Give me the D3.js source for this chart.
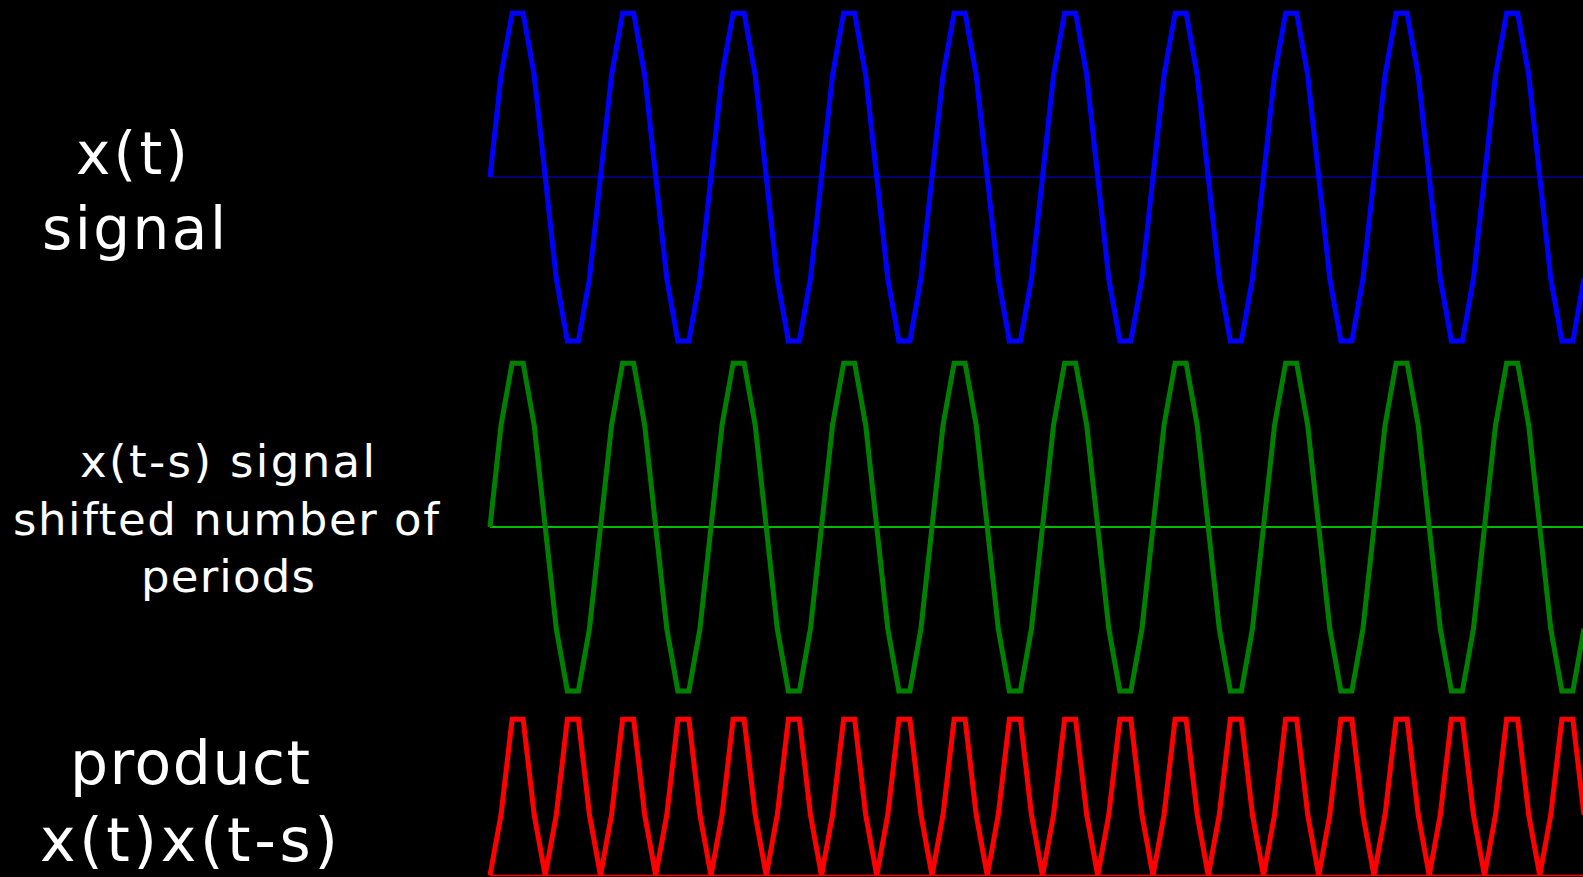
<!DOCTYPE html>
<html>
<head>
<meta charset="utf-8">
<script src="https://cdn.jsdelivr.net/npm/d3@7"></script>
<style>
  html, body { margin: 0; padding: 0; background: #000; overflow: hidden; }
  svg { display: block; }
  text { font-family: "DejaVu Sans", Verdana, sans-serif; fill: #fff; }
</style>
</head>
<body>
<svg id="chart" width="1583" height="877"></svg>
<script>
// ---- data ----
const signal = [
  0, 0.59, 0.95, 0.95, 0.59, 0, -0.59, -0.95, -0.95, -0.59,
  0, 0.59, 0.95, 0.95, 0.59, 0, -0.59, -0.95, -0.95, -0.59,
  0, 0.59, 0.95, 0.95, 0.59, 0, -0.59, -0.95, -0.95, -0.59,
  0, 0.59, 0.95, 0.95, 0.59, 0, -0.59, -0.95, -0.95, -0.59,
  0, 0.59, 0.95, 0.95, 0.59, 0, -0.59, -0.95, -0.95, -0.59,
  0, 0.59, 0.95, 0.95, 0.59, 0, -0.59, -0.95, -0.95, -0.59,
  0, 0.59, 0.95, 0.95, 0.59, 0, -0.59, -0.95, -0.95, -0.59,
  0, 0.59, 0.95, 0.95, 0.59, 0, -0.59, -0.95, -0.95, -0.59,
  0, 0.59, 0.95, 0.95, 0.59, 0, -0.59, -0.95, -0.95, -0.59,
  0, 0.59, 0.95, 0.95, 0.59, 0, -0.59, -0.95, -0.95, -0.59
];
const shifted = [
  0, 0.59, 0.95, 0.95, 0.59, 0, -0.59, -0.95, -0.95, -0.59,
  0, 0.59, 0.95, 0.95, 0.59, 0, -0.59, -0.95, -0.95, -0.59,
  0, 0.59, 0.95, 0.95, 0.59, 0, -0.59, -0.95, -0.95, -0.59,
  0, 0.59, 0.95, 0.95, 0.59, 0, -0.59, -0.95, -0.95, -0.59,
  0, 0.59, 0.95, 0.95, 0.59, 0, -0.59, -0.95, -0.95, -0.59,
  0, 0.59, 0.95, 0.95, 0.59, 0, -0.59, -0.95, -0.95, -0.59,
  0, 0.59, 0.95, 0.95, 0.59, 0, -0.59, -0.95, -0.95, -0.59,
  0, 0.59, 0.95, 0.95, 0.59, 0, -0.59, -0.95, -0.95, -0.59,
  0, 0.59, 0.95, 0.95, 0.59, 0, -0.59, -0.95, -0.95, -0.59,
  0, 0.59, 0.95, 0.95, 0.59, 0, -0.59, -0.95, -0.95, -0.59
];
const product = [
  0, 0.35, 0.9, 0.9, 0.35, 0, 0.35, 0.9, 0.9, 0.35,
  0, 0.35, 0.9, 0.9, 0.35, 0, 0.35, 0.9, 0.9, 0.35,
  0, 0.35, 0.9, 0.9, 0.35, 0, 0.35, 0.9, 0.9, 0.35,
  0, 0.35, 0.9, 0.9, 0.35, 0, 0.35, 0.9, 0.9, 0.35,
  0, 0.35, 0.9, 0.9, 0.35, 0, 0.35, 0.9, 0.9, 0.35,
  0, 0.35, 0.9, 0.9, 0.35, 0, 0.35, 0.9, 0.9, 0.35,
  0, 0.35, 0.9, 0.9, 0.35, 0, 0.35, 0.9, 0.9, 0.35,
  0, 0.35, 0.9, 0.9, 0.35, 0, 0.35, 0.9, 0.9, 0.35,
  0, 0.35, 0.9, 0.9, 0.35, 0, 0.35, 0.9, 0.9, 0.35,
  0, 0.35, 0.9, 0.9, 0.35, 0, 0.35, 0.9, 0.9, 0.35
];
const labelSignal = ["x(t)", "signal"];
const labelShifted = ["x(t-s) signal", "shifted number of", "periods"];
const labelProduct = ["product", "x(t)x(t-s)"];

// ---- drawing ----
const svg = d3.select("#chart");
svg.append("rect").attr("width", 1583).attr("height", 877).attr("fill", "#000");

const n = signal.length;
const x = d3.scaleLinear().domain([0, n - 1]).range([490, 490 + 11.05 * (n - 1)]);
const ySig = d3.scaleLinear().domain([-1, 1]).range([349.5, 4.5]);
const yShift = d3.scaleLinear().domain([-1, 1]).range([699.5, 354.5]);
const yProd = d3.scaleLinear().domain([0, 1]).range([875.5, 702]);

function panel(values, y, axisColor, lineColor) {
  svg.append("line")
    .attr("x1", x(0)).attr("x2", 1583)
    .attr("y1", y(0)).attr("y2", y(0))
    .attr("stroke", axisColor).attr("stroke-width", 1.5);
  svg.append("path")
    .datum(values)
    .attr("d", d3.line().x((d, i) => x(i)).y(d => y(d)))
    .attr("fill", "none")
    .attr("stroke", lineColor)
    .attr("stroke-width", 5)
    .attr("stroke-linejoin", "miter");
}
panel(signal, ySig, "#000099", "#0000ff");
panel(shifted, yShift, "#00ff00", "#008000");
panel(product, yProd, "#ff0000", "#ff0000");

function label(lines, xs, ys, lens, size) {
  lines.forEach((t, i) => {
    svg.append("text")
      .attr("x", xs[i]).attr("y", ys[i])
      .attr("font-size", size)
      .attr("textLength", lens[i])
      .attr("lengthAdjust", "spacing")
      .text(t);
  });
}
label(labelSignal, [76, 42], [174, 249], [112, 184], 58);
label(labelShifted, [80, 13, 141], [477, 535, 592], [295, 426, 174], 45);
label(labelProduct, [70, 40], [784, 861], [240, 298], 60);
</script>
</body>
</html>
